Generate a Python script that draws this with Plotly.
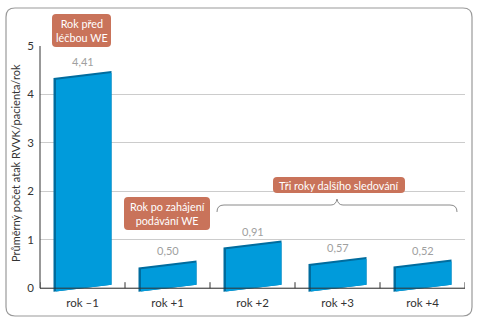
import plotly.graph_objects as go

# ---- data ----
categories = ["rok –1", "rok +1", "rok +2", "rok +3", "rok +4"]
values = [4.41, 0.50, 0.91, 0.57, 0.52]
value_labels = ["4,41", "0,50", "0,91", "0,57", "0,52"]
y_ticks = [0, 1, 2, 3, 4, 5]
y_title = "Průměrný počet atak RVVK/pacienta/rok"
box_texts = ["Rok před<br>léčbou WE", "Rok po zahájení<br>podávání WE", "Tři roky dalšího sledování"]

# ---- layout constants ----
W, H = 478, 323
L, R, T, B = 40, 13, 46, 29
PW, PH = W - L - R, H - T - B
YMIN, YMAX = -0.12, 5
UX = PW / 5.0            # px per category
UY = PH / (YMAX - YMIN)  # px per y unit

LIGHT = "rgb(0,155,219)"
DARK = "rgb(0,108,158)"
BOX = "rgb(201,115,90)"
FONT = "Lato"

def pxp(x):  # pixel x -> paper
    return (x - L) / PW

def pyp(y):  # pixel y -> paper
    return (H - B - y) / PH

fig = go.Figure()

hw = 29 / UX          # half bar width (category units)
sk = 3.5 / UY         # skew (y units)
side = 2.5 / UX
topd = 2.0 / UY
for i, v in enumerate(values):
    xs = [i - hw, i + hw, i + hw, i - hw, i - hw]
    ys = [-sk, sk, v + sk, v - sk, -sk]
    fig.add_trace(go.Scatter(x=xs, y=ys, fill="toself", fillcolor=DARK, mode="lines",
                             line=dict(width=0), hoverinfo="skip", showlegend=False))
    xl = i - hw + side
    fy = lambda x: v + sk * (x - i) / hw - topd
    by = lambda x: sk * (x - i) / hw
    xs2 = [xl, i + hw, i + hw, xl, xl]
    ys2 = [by(xl), sk, fy(i + hw), fy(xl), by(xl)]
    fig.add_trace(go.Scatter(x=xs2, y=ys2, fill="toself", fillcolor=LIGHT, mode="lines",
                             line=dict(width=0), hoverinfo="skip", showlegend=False))
    fig.add_annotation(x=i, y=v, yshift=13, text=value_labels[i], showarrow=False,
                       xanchor="center", yanchor="middle",
                       font=dict(family=FONT, size=11, color="#a0a0a0"))

shapes = []
# axis lines
shapes.append(dict(type="line", xref="paper", yref="y", x0=0, x1=1, y0=0, y1=0,
                   line=dict(color="#333333", width=1)))
shapes.append(dict(type="line", xref="paper", yref="y", x0=0, x1=0, y0=0, y1=5,
                   line=dict(color="#333333", width=1)))
for k in range(6):
    shapes.append(dict(type="line", xref="x", yref="y", x0=-0.5 + k, x1=-0.5 + k,
                       y0=0, y1=6 / UY, line=dict(color="#333333", width=1)))

def rrect(x0, y0, x1, y1, r):
    # pixel rounded rectangle -> paper path
    p = lambda x, y: f"{pxp(x):.5f},{pyp(y):.5f}"
    return (f"M{p(x0 + r, y0)} L{p(x1 - r, y0)} Q{p(x1, y0)} {p(x1, y0 + r)} "
            f"L{p(x1, y1 - r)} Q{p(x1, y1)} {p(x1 - r, y1)} L{p(x0 + r, y1)} "
            f"Q{p(x0, y1)} {p(x0, y1 - r)} L{p(x0, y0 + r)} Q{p(x0, y0)} {p(x0 + r, y0)} Z")

# outer frame
shapes.append(dict(type="path", xref="paper", yref="paper", path=rrect(6, 8, 472, 316, 9),
                   line=dict(color="#9a9a9a", width=1.2), layer="below"))

# label boxes
boxes = [(52, 14, 111, 47), (124, 197, 210, 230), (273, 177, 405, 193)]
for (x0, y0, x1, y1), txt in zip(boxes, box_texts):
    shapes.append(dict(type="path", xref="paper", yref="paper", path=rrect(x0, y0, x1, y1, 4),
                       fillcolor=BOX, line=dict(width=0)))
    fig.add_annotation(xref="paper", yref="paper", x=pxp((x0 + x1) / 2), y=pyp((y0 + y1) / 2),
                       xanchor="center", yanchor="middle",
                       text=txt, showarrow=False, align="center",
                       font=dict(family=FONT, size=10.8, color="white"))

# brace
p = lambda x, y: f"{pxp(x):.5f},{pyp(y):.5f}"
brace = (f"M{p(217, 212)} Q{p(217, 205)} {p(224, 205)} L{p(331, 205)} "
         f"Q{p(336, 205)} {p(337, 199)} Q{p(338, 205)} {p(343, 205)} "
         f"L{p(450, 205)} Q{p(457, 205)} {p(457, 212)}")
shapes.append(dict(type="path", xref="paper", yref="paper", path=brace,
                   line=dict(color="#8a8a8a", width=1)))

# y title
fig.add_annotation(xref="paper", yref="paper", x=pxp(15), y=pyp(163), text=y_title,
                   textangle=-90, showarrow=False, xanchor="center", yanchor="middle",
                   font=dict(family=FONT, size=11, color="#333333"))

fig.update_layout(
    width=W, height=H, margin=dict(l=L, r=R, t=T, b=B),
    paper_bgcolor="white", plot_bgcolor="white",
    shapes=shapes, showlegend=False,
    font=dict(family=FONT, size=11, color="#333333"),
    xaxis=dict(range=[-0.5, 4.5], tickvals=list(range(len(categories))), ticktext=categories,
               showgrid=False, zeroline=False, showline=False, ticks="",
               tickfont=dict(family=FONT, size=11.5, color="#333333")),
    yaxis=dict(range=[YMIN, YMAX], tickvals=y_ticks, ticktext=[str(t) for t in y_ticks],
               showgrid=True, gridcolor="#cccccc", gridwidth=1, zeroline=False,
               showline=False, ticks="", ticklabelstandoff=5,
               tickfont=dict(family=FONT, size=11.5, color="#333333")),
)

fig.write_html("out.html")
